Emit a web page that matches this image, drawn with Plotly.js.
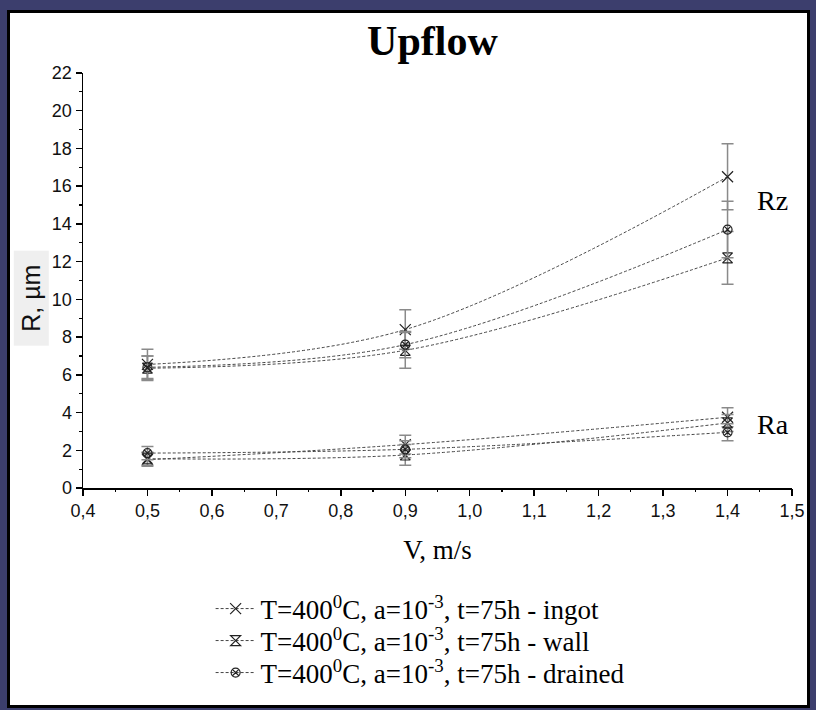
<!DOCTYPE html>
<html>
<head>
<meta charset="utf-8">
<script src="https://cdn.plot.ly/plotly-3.0.1.min.js"></script>
<style>
  html, body { margin: 0; padding: 0; background: #3c3e6d; width: 816px; height: 710px; overflow: hidden; }
  #frame { position: absolute; left: 7px; top: 10px; width: 797px; height: 692px; border: 3px solid #000; background: #fff; }
  #chart { width: 797px; height: 692px; }
</style>
</head>
<body>
<div id="frame"><div id="chart"></div></div>
<script>
// Flow velocity, m/s
const velocity = [0.5, 0.9, 1.4];

// Rz roughness, µm, and its spread
const rzIngot = [6.55, 8.4, 16.5];
const rzIngotErr = [0.8, 1.05, 1.75];
const rzWall = [6.35, 7.3, 12.2];
const rzWallErr = [0.65, 0.95, 1.4];
const rzDrained = [6.4, 7.6, 13.7];
const rzDrainedErr = [0.6, 0.7, 1.5];

// Ra roughness, µm, and its spread
const raIngot = [1.5, 2.3, 3.75];
const raIngotErr = [0.35, 0.5, 0.5];
const raWall = [1.55, 1.75, 3.45];
const raWallErr = [0.35, 0.55, 0.45];
const raDrained = [1.85, 2.05, 2.95];
const raDrainedErr = [0.35, 0.45, 0.45];

// Axis ranges and tick steps
const xRange = [0.4, 1.5];
const yRange = [0, 22];

const seriesNames = [
  'T=400<sup>0</sup>C, a=10<sup>-3</sup>, t=75h - ingot',
  'T=400<sup>0</sup>C, a=10<sup>-3</sup>, t=75h - wall',
  'T=400<sup>0</sup>C, a=10<sup>-3</sup>, t=75h - drained'
];
const symbols = ['x-thin-open', 'hourglass-open', 'circle-x-open'];
const markerSizes = [11, 10, 9];
const legendIds = ['legend', 'legend2', 'legend3'];

const groups = [
  { rz: rzIngot, rzErr: rzIngotErr, ra: raIngot, raErr: raIngotErr },
  { rz: rzWall, rzErr: rzWallErr, ra: raWall, raErr: raWallErr },
  { rz: rzDrained, rzErr: rzDrainedErr, ra: raDrained, raErr: raDrainedErr }
];

function makeTrace(y, err, i, show) {
  return {
    x: velocity, y: y,
    type: 'scatter', mode: 'lines+markers',
    name: seriesNames[i],
    legend: legendIds[i],
    legendgroup: 'g' + i,
    showlegend: show,
    line: { shape: 'spline', smoothing: 1, dash: '3px,2px', width: 1, color: '#444' },
    marker: { symbol: symbols[i], size: markerSizes[i], color: '#222', line: { width: 1.2, color: '#222' } },
    error_y: { type: 'data', array: err, visible: true, color: '#8a8a8a', thickness: 1.5, width: 6 }
  };
}

const traces = [];
groups.forEach((g, i) => {
  traces.push(makeTrace(g.rz, g.rzErr, i, true));
  traces.push(makeTrace(g.ra, g.raErr, i, false));
});

const serif = 'Liberation Serif';
const sans = 'Liberation Sans';

function legendBox(yPos) {
  return {
    x: 0.18, xanchor: 'left', y: yPos, yanchor: 'middle',
    font: { family: serif, size: 27, color: '#000' },
    bgcolor: 'rgba(0,0,0,0)', borderwidth: 0, itemwidth: 40
  };
}

// Unlabelled overlay axes carry the short intermediate ticks
function minorAxis(range, step, side, anchor, overlay) {
  return {
    range: range, dtick: step, tick0: range[0], overlaying: overlay, anchor: anchor, side: side,
    showgrid: false, zeroline: false, showline: false, showticklabels: false,
    ticks: 'outside', ticklen: 3, tickwidth: 1.2, tickcolor: '#000', fixedrange: true
  };
}

const layout = {
  width: 797, height: 692,
  font: { family: sans, size: 18, color: '#111' },
  paper_bgcolor: '#fff', plot_bgcolor: '#fff',
  separators: ', ',
  margin: { l: 73, r: 15, t: 60, b: 217, autoexpand: false },
  title: {
    text: '<b>Upflow</b>',
    font: { family: serif, size: 42, color: '#000' },
    x: 0.53, xanchor: 'center', y: 0.961, yanchor: 'middle', yref: 'container'
  },
  xaxis: {
    range: xRange, dtick: 0.1, tick0: 0.4, tickformat: '.1f',
    showgrid: false, zeroline: false,
    showline: true, linecolor: '#000', linewidth: 1.5,
    ticks: 'outside', ticklen: 6, tickwidth: 1.5, tickcolor: '#000',
    tickfont: { family: sans, size: 18, color: '#111' },
    title: { text: 'V, m/s', font: { family: serif, size: 27, color: '#000' }, standoff: 20 },
    automargin: false
  },
  yaxis: {
    range: yRange, dtick: 2, tick0: 0,
    showgrid: false, zeroline: false,
    showline: true, linecolor: '#000', linewidth: 1.5,
    ticks: 'outside', ticklen: 6, tickwidth: 1.5, tickcolor: '#000',
    tickfont: { family: sans, size: 18, color: '#111' },
    automargin: false
  },
  xaxis2: minorAxis(xRange, 0.05, 'bottom', 'y', 'x'),
  yaxis2: minorAxis(yRange, 1, 'left', 'x', 'y'),
  showlegend: true,
  legend: legendBox(-0.2916),
  legend2: legendBox(-0.3687),
  legend3: legendBox(-0.4458),
  annotations: [
    { text: 'R, µm', xref: 'paper', yref: 'paper', x: -0.073, y: 0.458,
      xanchor: 'center', yanchor: 'middle',
      textangle: -90, showarrow: false, bgcolor: '#efefef', borderpad: 0,
      width: 94, height: 34,
      font: { family: sans, size: 25, color: '#111' } },
    { text: 'Rz', x: 1.47, y: 15.25, xref: 'x', yref: 'y', showarrow: false,
      font: { family: serif, size: 28, color: '#000' } },
    { text: 'Ra', x: 1.47, y: 3.35, xref: 'x', yref: 'y', showarrow: false,
      font: { family: serif, size: 28, color: '#000' } }
  ]
};

// An empty trace keeps the overlay axes drawn
traces.push({ x: [], y: [], xaxis: 'x2', yaxis: 'y2', type: 'scatter', mode: 'markers', showlegend: false, hoverinfo: 'skip' });

Plotly.newPlot('chart', traces, layout, { displayModeBar: false, staticPlot: true });
</script>
</body>
</html>
